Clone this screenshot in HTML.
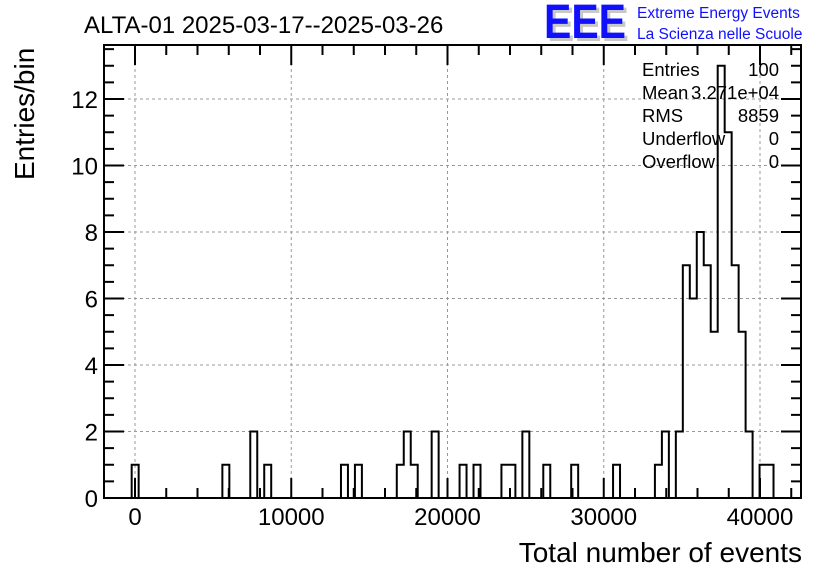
<!DOCTYPE html>
<html><head><meta charset="utf-8"><style>
body{margin:0;background:#fff;}
svg{display:block;font-family:"Liberation Sans",sans-serif;}
</style></head><body>
<svg id="c" width="836" height="572" viewBox="0 0 836 572">
<text x="84" y="33" font-size="24">ALTA-01 2025-03-17--2025-03-26</text>
<g>
<text x="547" y="41" font-size="48" font-weight="bold" fill="#c8c8c8" textLength="82" lengthAdjust="spacingAndGlyphs">EEE</text>
<text x="544" y="38" font-size="48" font-weight="bold" fill="#1010ff" textLength="82" lengthAdjust="spacingAndGlyphs">EEE</text>
<text x="637" y="18" font-size="15.5" fill="#1010ff">Extreme Energy Events</text>
<text x="637" y="39" font-size="15.5" fill="#1010ff">La Scienza nelle Scuole</text>
</g>
<g id="grid"></g>
<g id="axes"></g>
<path id="hist" fill="none" stroke="#000" stroke-width="2"></path>
<rect x="104" y="45" width="697" height="453" fill="none" stroke="#000" stroke-width="2"></rect>
<g font-size="18.5">
<text x="642" y="76">Entries</text><text x="779" y="76" text-anchor="end">100</text>
<text x="642" y="99">Mean</text><text x="779" y="99" text-anchor="end">3.271e+04</text>
<text x="642" y="122">RMS</text><text x="779" y="122" text-anchor="end">8859</text>
<text x="642" y="145">Underflow</text><text x="779" y="145" text-anchor="end">0</text>
<text x="642" y="168">Overflow</text><text x="779" y="168" text-anchor="end">0</text>
</g>
<text x="802" y="562" font-size="28" text-anchor="end">Total number of events</text>
<text transform="translate(34,180) rotate(-90)" font-size="28">Entries/bin</text>
</svg>
<script>
const binStart = -213;
const binWidth = 446.5;
const binIndices = [0,13,17,19,30,32,38,39,40,43,47,49,53,54,56,59,63,69,75,76,78,79,80,81,82,83,84,85,86,87,88,90,91];
const binCounts  = [1,1,2,1,1,1,1,2,1,2,1,1,1,1,2,1,1,1,1,2,2,7,6,8,7,5,13,11,7,5,2,1,1];
const xTicks = [0,10000,20000,30000,40000];
const yTicks = [0,2,4,6,8,10,12];
const NS="http://www.w3.org/2000/svg";
const X0=104,X1=801,Y0=498,Y1=45;
const xs=v=>135+v*0.015625;
const ys=v=>498-v*33.25;
function mk(tag,attrs,parent){const e=document.createElementNS(NS,tag);for(const k in attrs)e.setAttribute(k,attrs[k]);parent.appendChild(e);return e;}
const grid=document.getElementById('grid'),axes=document.getElementById('axes');
xTicks.forEach(t=>{
 const l=mk('line',{x1:xs(t),x2:xs(t),y1:Y0,y2:Y1,stroke:'#999','stroke-dasharray':'3,3','stroke-width':1},grid);
 
 
 const tx=mk('text',{x:xs(t),y:525,'font-size':24,'text-anchor':'middle'},axes);
 tx.textContent=t;
 
 
});
yTicks.forEach(t=>{
 const l=mk('line',{x1:X0,x2:X1,y1:ys(t),y2:ys(t),stroke:'#999','stroke-dasharray':'3,3','stroke-width':1},grid);
 
 
 const tx=mk('text',{x:98,y:ys(t)+9,'font-size':24,'text-anchor':'end'},axes);
 tx.textContent=t;
 
 
});
for(let v=0;v<=42000;v+=2000){
 const maj=v%10000===0, len=maj?20:10, x=xs(v);
 if(x>X1)break;
 mk('line',{x1:x,x2:x,y1:Y0,y2:Y0-len,stroke:'#000','stroke-width':2},axes);
 mk('line',{x1:x,x2:x,y1:Y1,y2:Y1+len,stroke:'#000','stroke-width':2},axes);
}
for(let v=0;v<=13.5;v+=0.5){
 const maj=v%2===0, len=maj?20:10, y=ys(v);
 mk('line',{x1:X0,x2:X0+len,y1:y,y2:y,stroke:'#000','stroke-width':2},axes);
 mk('line',{x1:X1,x2:X1-len,y1:y,y2:y,stroke:'#000','stroke-width':2},axes);
}
const nb=Math.max(...binIndices)+2;
const counts=new Array(nb).fill(0);
binIndices.forEach((b,i)=>counts[b]=binCounts[i]);
const px=i=>xs(binStart+i*binWidth);
let d='M'+X0+' '+Y0+' L'+px(0)+' '+Y0;
for(let i=0;i<nb;i++){d+=' L'+px(i)+' '+ys(counts[i])+' L'+px(i+1)+' '+ys(counts[i]);}
d+=' L'+px(nb)+' '+Y0;
document.getElementById('hist').setAttribute('d',d);
</script>
</body></html>
